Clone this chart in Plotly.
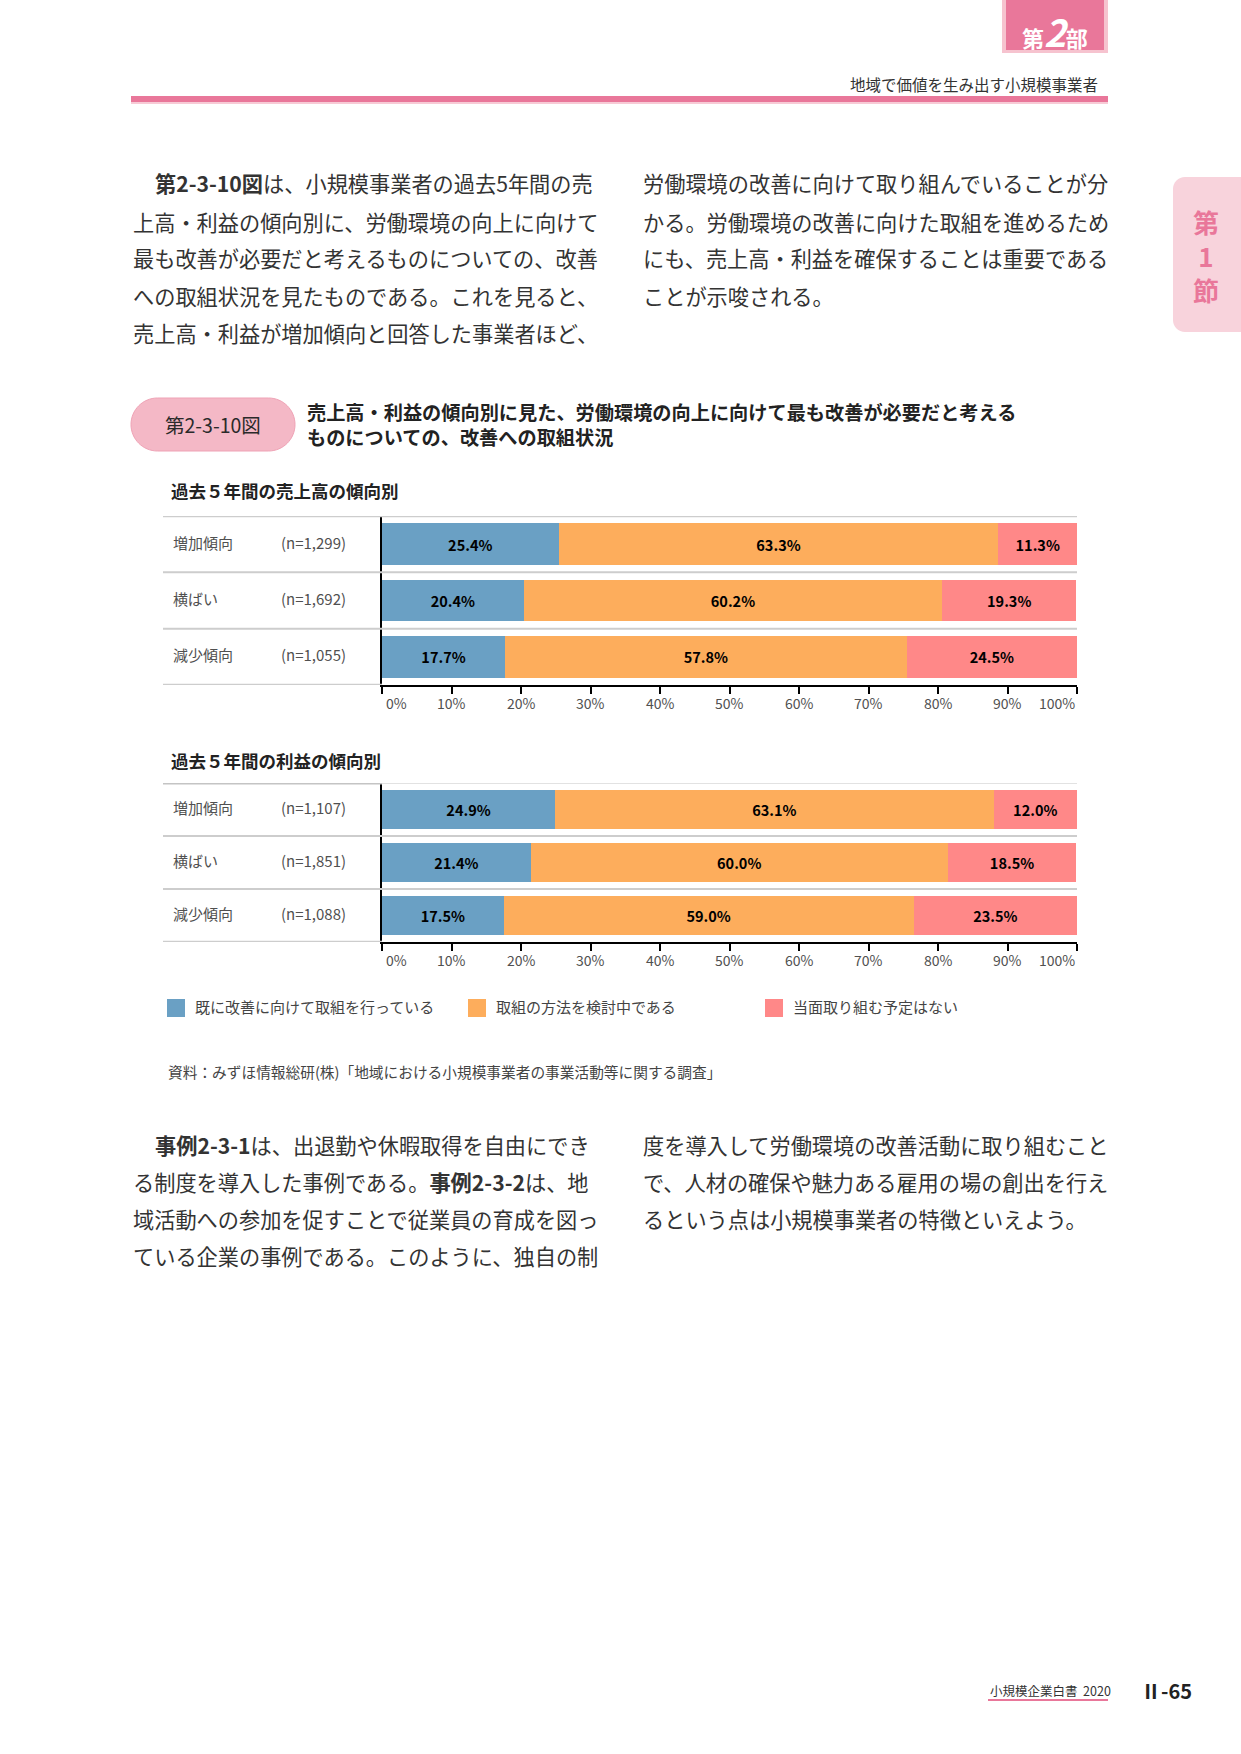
import plotly.graph_objects as go

# ---------------- data ----------------
categories = ["増加傾向", "横ばい", "減少傾向"]
sales_n = ["(n=1,299)", "(n=1,692)", "(n=1,055)"]
profit_n = ["(n=1,107)", "(n=1,851)", "(n=1,088)"]
series_names = ["既に改善に向けて取組を行っている", "取組の方法を検討中である", "当面取り組む予定はない"]
sales_already = [25.4, 20.4, 17.7]
sales_considering = [63.3, 60.2, 57.8]
sales_none = [11.3, 19.3, 24.5]
profit_already = [24.9, 21.4, 17.5]
profit_considering = [63.1, 60.0, 59.0]
profit_none = [12.0, 18.5, 23.5]
tick_values = [0, 10, 20, 30, 40, 50, 60, 70, 80, 90, 100]
tick_labels = ["0%", "10%", "20%", "30%", "40%", "50%", "60%", "70%", "80%", "90%", "100%"]

chart_title_1 = "売上高・利益の傾向別に見た、労働環境の向上に向けて最も改善が必要だと考える"
chart_title_2 = "ものについての、改善への取組状況"
figure_label = "第2-3-10図"
subtitle_sales = "過去５年間の売上高の傾向別"
subtitle_profit = "過去５年間の利益の傾向別"
source_text = "資料：みずほ情報総研(株)「地域における小規模事業者の事業活動等に関する調査」"
header_text = "地域で価値を生み出す小規模事業者"

para_top_left = [
    "<b>第2-3-10図</b>は、小規模事業者の過去5年間の売",
    "上高・利益の傾向別に、労働環境の向上に向けて",
    "最も改善が必要だと考えるものについての、改善",
    "への取組状況を見たものである。これを見ると、",
    "売上高・利益が増加傾向と回答した事業者ほど、",
]
para_top_right = [
    "労働環境の改善に向けて取り組んでいることが分",
    "かる。労働環境の改善に向けた取組を進めるため",
    "にも、売上高・利益を確保することは重要である",
    "ことが示唆される。",
]
para_bottom_left = [
    "<b>事例2-3-1</b>は、出退勤や休暇取得を自由にでき",
    "る制度を導入した事例である。<b>事例2-3-2</b>は、地",
    "域活動への参加を促すことで従業員の育成を図っ",
    "ている企業の事例である。このように、独自の制",
]
para_bottom_right = [
    "度を導入して労働環境の改善活動に取り組むこと",
    "で、人材の確保や魅力ある雇用の場の創出を行え",
    "るという点は小規模事業者の特徴といえよう。",
]

# ---------------- style ----------------
W, H = 1241, 1754
FONT = "Noto Sans CJK JP"
colors = ["#6AA0C4", "#FDAD5C", "#FF8888"]
PINK = "#E9779A"
LIGHT_PINK = "#F4B8C6"
GRAY_LINE = "#CDCDCD"
TXT = "#333333"


def px(x):
    return x / W


def py(y):
    return 1 - y / H


fig = go.Figure()

sales_series = [sales_already, sales_considering, sales_none]
profit_series = [profit_already, profit_considering, profit_none]

for vals, xa, ya in [(sales_series, "x", "y"), (profit_series, "x2", "y2")]:
    for name, color, v in zip(series_names, colors, vals):
        fig.add_trace(go.Bar(
            y=categories, x=v, orientation="h", name=name,
            marker=dict(color=color, line=dict(width=0)),
            texttemplate="<b>%{x:.1f}%</b>", textposition="inside",
            insidetextanchor="middle", textangle=0,
            textfont=dict(color="black", size=14.5, family=FONT),
            xaxis=xa, yaxis=ya, showlegend=False, hoverinfo="skip",
        ))

X_LEFT, X0, X1 = 163, 382, 1077
charts = [
    dict(top=516, bottom=685, ya="y", xa="x", n=sales_n, sub=subtitle_sales, sub_y=490),
    dict(top=783, bottom=942, ya="y2", xa="x2", n=profit_n, sub=subtitle_profit, sub_y=760),
]

axis_common_x = dict(range=[0, 100], showline=True, linecolor="black", linewidth=2,
                     ticks="outside", ticklen=7, tickwidth=1.5, tickcolor="black",
                     tickvals=tick_values, showticklabels=False, showgrid=False,
                     zeroline=False, fixedrange=True)
axis_common_y = dict(type="category", categoryarray=categories, categoryorder="array",
                     autorange=False, range=[len(categories) - 0.5, -0.5],
                     showline=True, linecolor="black", linewidth=1.5,
                     showticklabels=False, ticks="", showgrid=False, zeroline=False,
                     fixedrange=True)

layout = dict(
    width=W, height=H, margin=dict(l=0, r=0, t=0, b=0),
    paper_bgcolor="white", plot_bgcolor="rgba(0,0,0,0)",
    barmode="stack", bargap=0.26, showlegend=False,
    font=dict(family=FONT, color=TXT),
    xaxis=dict(domain=[px(X0), px(X1)], anchor="y", **axis_common_x),
    yaxis=dict(domain=[py(685), py(516)], anchor="x", **axis_common_y),
    xaxis2=dict(domain=[px(X0), px(X1)], anchor="y2", **axis_common_x),
    yaxis2=dict(domain=[py(942), py(783)], anchor="x2", **axis_common_y),
)
fig.update_layout(**layout)

shapes = []
annotations = []


def ann(x, y, text, size, color=TXT, xanchor="left", yanchor="middle", xref="paper", yref="paper", **kw):
    annotations.append(dict(x=x, y=y, xref=xref, yref=yref, text=text, showarrow=False,
                            xanchor=xanchor, yanchor=yanchor,
                            font=dict(family=FONT, size=size, color=color), **kw))


def rect(x0, y0, x1, y1, fill, line_color=None, line_width=0, layer="above"):
    shapes.append(dict(type="rect", xref="paper", yref="paper",
                       x0=px(x0), x1=px(x1), y0=py(y0), y1=py(y1),
                       fillcolor=fill, line=dict(width=line_width, color=line_color or fill),
                       layer=layer))


# ---------- chart decorations ----------
n_cat = len(categories)
for i, c in enumerate(charts):
    yr = c["ya"]
    xr = c["xa"]
    # top line
    if i == 0:
        shapes.append(dict(type="line", xref="paper", yref=yr, x0=px(X_LEFT), x1=px(X1),
                           y0=-0.5, y1=-0.5, line=dict(color=GRAY_LINE, width=2.5)))
    else:
        shapes.append(dict(type="line", xref="paper", yref=yr, x0=px(X_LEFT), x1=px(X0),
                           y0=-0.5, y1=-0.5, line=dict(color="#C4C4C4", width=3)))
        shapes.append(dict(type="line", xref="paper", yref=yr, x0=px(X0), x1=px(X1),
                           y0=-0.5, y1=-0.5, line=dict(color="#D9D9D9", width=1.5)))
    # row separators
    for k in range(n_cat - 1):
        shapes.append(dict(type="line", xref="paper", yref=yr, x0=px(X_LEFT), x1=px(X1),
                           y0=k + 0.5, y1=k + 0.5, line=dict(color=GRAY_LINE, width=2)))
    # bottom left line
    shapes.append(dict(type="line", xref="paper", yref=yr, x0=px(X_LEFT), x1=px(X0),
                       y0=n_cat - 0.5, y1=n_cat - 0.5, line=dict(color=GRAY_LINE, width=2.5)))
    # row labels
    for cat, nlab in zip(categories, c["n"]):
        ann(px(171), cat, cat, 15, color="#505050", yref=yr, yshift=2)
        ann(px(279), cat, nlab, 15, color="#505050", yref=yr, yshift=2)
    # tick labels
    for j, (tv, tl) in enumerate(zip(tick_values, tick_labels)):
        if j == 0:
            xa_, xs = "left", 2
        elif j == len(tick_values) - 1:
            xa_, xs = "right", 0
        else:
            xa_, xs = "center", 0
        ann(tv, py(c["bottom"] + 18), tl, 14, color="#505050", xanchor=xa_, xref=xr, xshift=xs)
    # subtitle
    ann(px(169), py(c["sub_y"]), "<b>" + c["sub"] + "</b>", 17.5, color="#222222")

# ---------- legend (manual) ----------
legend_x = [167, 468, 765]
for lx, name, color in zip(legend_x, series_names, colors):
    rect(lx, 999, lx + 18, 1017, color)
    ann(px(lx + 26), py(1007), name, 15, color="#444444")

# source
ann(px(166), py(1071), source_text, 14.7, color="#444444")

# ---------- figure title block ----------
cx0, cx1, cy0, cy1 = 131, 295, 398, 451
r = (cy1 - cy0) / 2
k = 0.5523 * r


def P(x, y):
    return f"{px(x):.6f},{py(y):.6f}"


pill = (f"M{P(cx0 + r, cy0)} L{P(cx1 - r, cy0)} "
        f"C{P(cx1 - r + k, cy0)} {P(cx1, cy0 + r - k)} {P(cx1, cy0 + r)} "
        f"C{P(cx1, cy0 + r + k)} {P(cx1 - r + k, cy1)} {P(cx1 - r, cy1)} "
        f"L{P(cx0 + r, cy1)} "
        f"C{P(cx0 + r - k, cy1)} {P(cx0, cy0 + r + k)} {P(cx0, cy0 + r)} "
        f"C{P(cx0, cy0 + r - k)} {P(cx0 + r - k, cy0)} {P(cx0 + r, cy0)} Z")
shapes.append(dict(type="path", xref="paper", yref="paper", path=pill,
                   fillcolor=LIGHT_PINK, line=dict(color="#EFA2B5", width=1)))
ann(px(213), py(424), figure_label, 19.5, color="#2A2A2A", xanchor="center")
ann(px(305), py(412), "<b>" + chart_title_1 + "</b>", 19.2, color="#222222")
ann(px(305), py(437), "<b>" + chart_title_2 + "</b>", 19.2, color="#222222")

# ---------- page header ----------
rect(1002, 0, 1108, 53, "#F6C3CF")
rect(1006, 0, 1104, 50, PINK)
ann(px(1055), py(31), "<b>第<i><span style='font-size:37px'>2</span></i>部</b>", 22,
    color="white", xanchor="center")
ann(px(1100), py(84), header_text, 15.5, color="#333333", xanchor="right")
rect(131, 96, 1108, 102, PINK)
rect(131, 102, 1108, 104, "#F7CBD6")

# side tab
sx0, sx1, sy0, sy1, sr = 1173, 1241, 177, 332, 12
sk = 0.5523 * sr
side = (f"M{P(sx1, sy0)} L{P(sx0 + sr, sy0)} "
        f"C{P(sx0 + sr - sk, sy0)} {P(sx0, sy0 + sr - sk)} {P(sx0, sy0 + sr)} "
        f"L{P(sx0, sy1 - sr)} "
        f"C{P(sx0, sy1 - sr + sk)} {P(sx0 + sr - sk, sy1)} {P(sx0 + sr, sy1)} "
        f"L{P(sx1, sy1)} Z")
shapes.append(dict(type="path", xref="paper", yref="paper", path=side,
                   fillcolor="#F8D3DC", line=dict(width=0)))
ann(px(1206), py(255), "<b>第<br>1<br>節</b>", 26, color=PINK, xanchor="center")

# ---------- body paragraphs ----------
PARA_SIZE = 21.2
top_ys = [183, 221, 258, 295, 332]
for idx, (line, yy) in enumerate(zip(para_top_left, top_ys)):
    ann(px(131 + (22 if idx == 0 else 0)), py(yy), line, PARA_SIZE)
for line, yy in zip(para_top_right, top_ys):
    ann(px(641), py(yy), line, PARA_SIZE)
bot_ys = [1144, 1181, 1218, 1255]
for idx, (line, yy) in enumerate(zip(para_bottom_left, bot_ys)):
    ann(px(131 + (22 if idx == 0 else 0)), py(yy), line, PARA_SIZE)
for line, yy in zip(para_bottom_right, bot_ys):
    ann(px(641), py(yy), line, PARA_SIZE)

# ---------- footer ----------
ann(px(988), py(1690), "小規模企業白書  2020", 12.5, color="#333333")
rect(988, 1699, 1108, 1701, PINK)
ann(px(1139), py(1690), "<b>Ⅱ-65</b>", 20, color="#222222")

fig.update_layout(shapes=shapes, annotations=annotations)
fig.write_html("out.html")
